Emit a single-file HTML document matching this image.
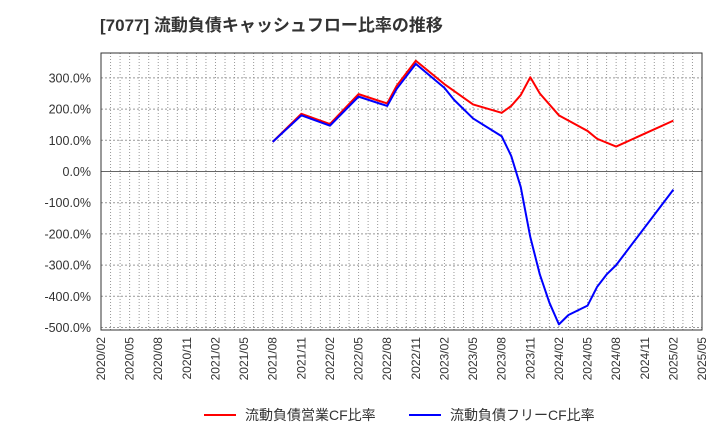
<!DOCTYPE html>
<html><head><meta charset="utf-8"><style>
body{margin:0;background:#fff;font-family:"Liberation Sans","Noto Sans CJK JP",sans-serif;}
svg text{font-family:"Liberation Sans","Noto Sans CJK JP",sans-serif;}
</style></head><body>
<svg id="c" width="720" height="440" xmlns="http://www.w3.org/2000/svg">
<text x="100" y="31" font-size="17" font-weight="bold" fill="#333">[7077]  流動負債キャッシュフロー比率の推移</text>
<g id="grid"></g><g id="axes"></g><g id="series"></g>
<g>
<line x1="204" y1="415" x2="236" y2="415" stroke="#f00" stroke-width="2"/>
<text x="245" y="420" font-size="14" fill="#333">流動負債営業CF比率</text>
<line x1="409" y1="415" x2="441" y2="415" stroke="#00f" stroke-width="2"/>
<text x="450" y="420" font-size="14" fill="#333">流動負債フリーCF比率</text>
</g>
</svg>
<script>
const xTickLabels=["2020/02","2020/05","2020/08","2020/11","2021/02","2021/05","2021/08","2021/11","2022/02","2022/05","2022/08","2022/11","2023/02","2023/05","2023/08","2023/11","2024/02","2024/05","2024/08","2024/11","2025/02","2025/05"];
const yTicks=[300,200,100,0,-100,-200,-300,-400,-500];
const redMonths=["2021/08","2021/11","2022/02","2022/05","2022/08","2022/09","2022/11","2023/02","2023/05","2023/08","2023/09","2023/10","2023/11","2023/12","2024/02","2024/05","2024/06","2024/08","2025/02"];
const redValues=[95,185,152,248,218,275,355,280,215,188,210,245,302,250,180,130,105,80,163];
const blueMonths=["2021/08","2021/11","2022/02","2022/05","2022/08","2022/09","2022/11","2023/02","2023/03","2023/05","2023/08","2023/09","2023/10","2023/11","2023/12","2024/01","2024/02","2024/03","2024/05","2024/06","2024/07","2024/08","2025/02"];
const blueValues=[95,180,147,240,210,265,345,268,230,170,113,50,-50,-210,-330,-420,-490,-460,-430,-370,-330,-300,-58];
const L=101,R=702,T=53,B=330;
const mi=s=>{const [y,m]=s.split('/').map(Number);return (y-2020)*12+(m-2);};
const X=s=>L+mi(s)*(R-L)/63;
const Y=v=>171.5-v*0.312;
const NS="http://www.w3.org/2000/svg";
function mk(p,t,a){const e=document.createElementNS(NS,t);for(const k in a)e.setAttribute(k,a[k]);p.appendChild(e);return e;}
const g=document.getElementById('grid'),ax=document.getElementById('axes'),se=document.getElementById('series');
for(let m=1;m<63;m++){const x=L+m*(R-L)/63;
const l=mk(g,'line',{x1:x,x2:x,y1:T,y2:B,stroke:'#999','stroke-dasharray':'1,2'});

}
yTicks.forEach(v=>{const y=Y(v);
const l=mk(g,'line',{x1:L,x2:R,y1:y,y2:y,stroke:v===0?'#666':'#999','stroke-dasharray':v===0?'':'2,2'});


const t=mk(ax,'text',{x:91,y:y+4.5,'text-anchor':'end','font-size':12.5,fill:'#333'});t.textContent=v.toFixed(1)+'%';

});
const f=mk(ax,'rect',{x:L,y:T,width:R-L,height:B-T,fill:'none',stroke:'#333'});


xTickLabels.forEach(s=>{const x=X(s);
const t=mk(ax,'text',{x:0,y:0,transform:`translate(${x+4},337) rotate(-90)`,'text-anchor':'end','font-size':12,fill:'#333'});t.textContent=s;

});
function line(ms,vs,c,n){const p=mk(se,'polyline',{points:ms.map((m,i)=>X(m)+','+Y(vs[i])).join(' '),fill:'none',stroke:c,'stroke-width':2,'stroke-linejoin':'round'});

}
line(redMonths,redValues,'#f00','operating-cf-ratio-line');
line(blueMonths,blueValues,'#00f','free-cf-ratio-line');
</script>
</body></html>
